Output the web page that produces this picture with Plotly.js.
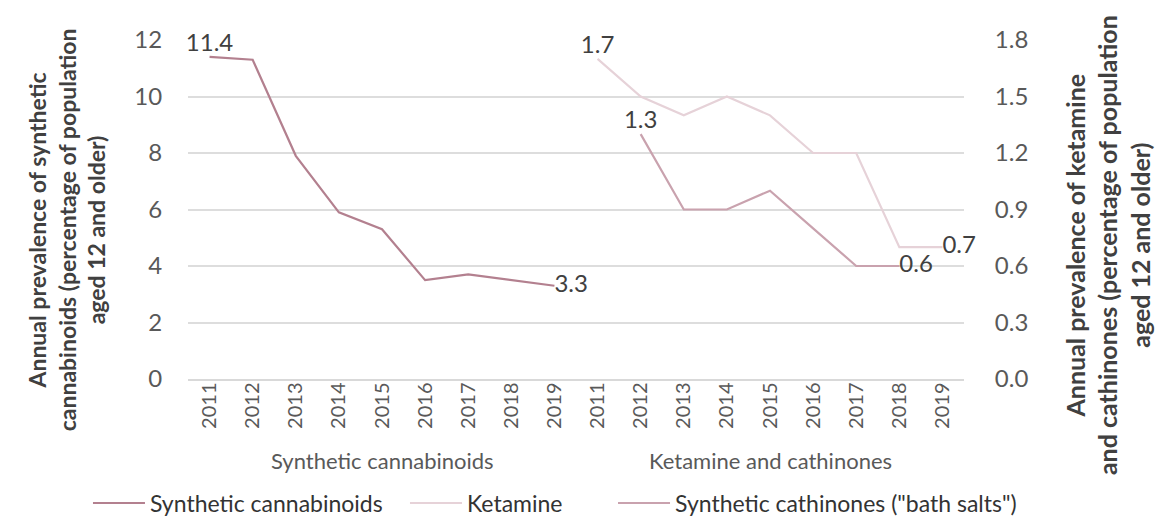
<!DOCTYPE html>
<html>
<head>
<meta charset="utf-8">
<script src="https://cdn.plot.ly/plotly-3.0.1.min.js"></script>
<style>html,body{margin:0;padding:0;background:#fff;}#chart{width:1175px;height:516px;}</style>
</head>
<body>
<div id="chart"></div>
<script>
// ---- data ----
var groups = ["Synthetic cannabinoids", "Ketamine and cathinones"];
var years = ["2011", "2012", "2013", "2014", "2015", "2016", "2017", "2018", "2019"];
var cannabinoids = [11.4, 11.3, 7.9, 5.9, 5.3, 3.5, 3.7, 3.5, 3.3];
var ketamine = [1.7, 1.5, 1.4, 1.5, 1.4, 1.2, 1.2, 0.7, 0.7];
var cathinones = [null, 1.3, 0.9, 0.9, 1.0, 0.8, 0.6, 0.6, null];
var cannabinoidsLabels = ["11.4", "", "", "", "", "", "", "", "3.3"];
var ketamineLabels = ["1.7", "", "", "", "", "", "", "", "0.7"];
var cathinonesLabels = ["", "1.3", "", "", "", "", "", "0.6", ""];
var seriesNames = ["Synthetic cannabinoids", "Ketamine", "Synthetic cathinones (\"bath salts\")"];
var leftTitle = "Annual prevalence of synthetic<br>cannabinoids (percentage of population<br>aged 12 and older)";
var rightTitle = "Annual prevalence of ketamine<br>and cathinones (percentage of population<br>aged 12 and older)";

// category keys (group + year) so both groups share one axis
var xCats = [];
groups.forEach(function (g) { years.forEach(function (y) { xCats.push(g + " " + y); }); });
var xTickText = years.concat(years);
var x1 = years.map(function (y) { return groups[0] + " " + y; });
var x2 = years.map(function (y) { return groups[1] + " " + y; });

var FONT = "Lato, 'Liberation Sans', sans-serif";
var labelFont = {family: FONT, size: 24, color: "#404040"};

var traces = [
  {
    x: x1, y: cannabinoids, name: seriesNames[0], type: "scatter", mode: "lines+text",
    text: cannabinoidsLabels,
    textposition: ["top center", "", "", "", "", "", "", "", "middle right"],
    textfont: labelFont, legend: "legend",
    line: {color: "#b3808f", width: 2.2}, yaxis: "y", cliponaxis: false, hoverinfo: "x+y"
  },
  {
    x: x2, y: ketamine, name: seriesNames[1], type: "scatter", mode: "lines+text",
    text: ketamineLabels,
    textposition: ["top center", "", "", "", "", "", "", "", "middle right"],
    textfont: labelFont, legend: "legend2",
    line: {color: "#e6d2d8", width: 2.2}, yaxis: "y2", cliponaxis: false, hoverinfo: "x+y"
  },
  {
    x: x2, y: cathinones, name: seriesNames[2], type: "scatter", mode: "lines+text",
    text: cathinonesLabels,
    textposition: ["", "top center", "", "", "", "", "", "middle right", ""],
    textfont: labelFont, legend: "legend3",
    line: {color: "#c9a2ae", width: 2.2}, yaxis: "y2", cliponaxis: false, hoverinfo: "x+y"
  }
];

function legendAt(xp) {
  return {
    orientation: "h", xref: "paper", yref: "paper",
    x: xp, xanchor: "left", y: -0.366, yanchor: "middle",
    font: {family: FONT, size: 23, color: "#333333"},
    itemwidth: 52, bgcolor: "rgba(0,0,0,0)"
  };
}

var layout = {
  width: 1175, height: 516,
  margin: {l: 188, r: 211, t: 40, b: 137, autoexpand: false},
  paper_bgcolor: "#ffffff", plot_bgcolor: "#ffffff",
  font: {family: FONT, color: "#404040"},
  showlegend: true,
  legend: legendAt(-0.1289),
  legend2: legendAt(0.2796),
  legend3: legendAt(0.5477),
  xaxis: {
    type: "category", categoryorder: "array", categoryarray: xCats,
    range: [-0.5, 17.5], autorange: false,
    tickmode: "array", tickvals: xCats, ticktext: xTickText,
    tickangle: -90, tickfont: {family: FONT, size: 20, color: "#595959"},
    ticklabelstandoff: -6,
    showgrid: false, zeroline: false,
    showline: true, linecolor: "#d9d9d9", linewidth: 1.5,
    ticks: "", fixedrange: true
  },
  yaxis: {
    range: [0, 12], dtick: 2, tick0: 0, autorange: false,
    tickfont: {family: FONT, size: 24, color: "#595959"},
    showgrid: true, gridcolor: "#dddddd", gridwidth: 2,
    zeroline: false, showline: false,
    ticks: "outside", ticklen: 20, tickcolor: "rgba(0,0,0,0)"
  },
  yaxis2: {
    range: [0, 1.8], dtick: 0.3, tick0: 0, tickformat: ".1f", autorange: false,
    overlaying: "y", side: "right",
    tickfont: {family: FONT, size: 24, color: "#595959"},
    showgrid: false, zeroline: false, showline: false,
    ticks: "outside", ticklen: 25, tickcolor: "rgba(0,0,0,0)"
  },
  annotations: [
    {xref: "x", yref: "paper", x: groups[0] + " 2015", y: -0.24, yanchor: "middle",
     text: groups[0], showarrow: false, font: {family: FONT, size: 22, color: "#595959"}},
    {xref: "x", yref: "paper", x: groups[1] + " 2015", y: -0.24, yanchor: "middle",
     text: groups[1], showarrow: false, font: {family: FONT, size: 22, color: "#595959"}},
    {xref: "paper", yref: "paper", x: -0.1566, y: 0.44, xanchor: "center", yanchor: "middle",
     text: leftTitle, textangle: -90, showarrow: false,
     font: {family: FONT, size: 23, color: "#404040", weight: "bold"}},
    {xref: "paper", yref: "paper", x: 1.1843, y: 0.395, xanchor: "center", yanchor: "middle",
     text: rightTitle, textangle: -90, showarrow: false,
     font: {family: FONT, size: 25, color: "#404040", weight: "bold"}}
  ]
};

Plotly.newPlot("chart", traces, layout, {displayModeBar: false, staticPlot: true});
</script>
</body>
</html>
